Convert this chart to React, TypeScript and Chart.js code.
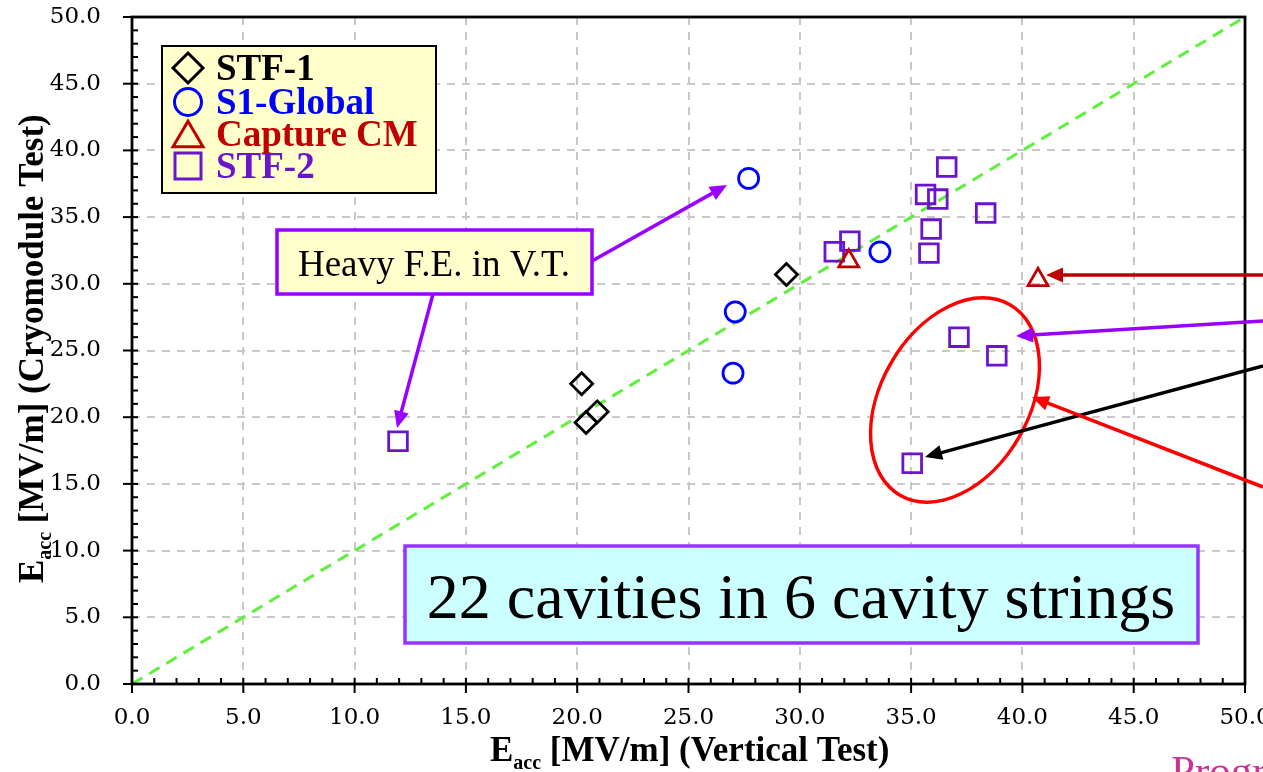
import { useEffect, useRef } from 'react';
import { Chart, registerables } from 'chart.js';

Chart.register(...registerables);

// ---- data ----
const stf1X = [20.2, 20.4, 20.9, 29.4];
const stf1Y = [22.5, 19.6, 20.4, 30.7];

const s1GlobalX = [27.7, 27.1, 27.0, 33.6];
const s1GlobalY = [37.9, 27.9, 23.3, 32.4];

const captureX = [32.2, 40.7];
const captureY = [31.7, 30.3];

const stf2X = [11.95, 31.55, 32.25, 35.65, 36.2, 36.6, 38.35, 35.9, 35.8, 37.15, 38.85, 35.05];
const stf2Y = [18.2, 32.4, 33.2, 36.7, 36.35, 38.75, 35.3, 34.1, 32.3, 26.0, 24.6, 16.55];

const diagX = [0, 50];
const diagY = [0, 50];

const axisTickLabels = ['0.0', '5.0', '10.0', '15.0', '20.0', '25.0', '30.0', '35.0', '40.0', '45.0', '50.0'];

const seriesNames = ['STF-1', 'S1-Global', 'Capture CM', 'STF-2'];
const seriesColors = ['#000000', '#0000ff', '#c00000', '#6a14cc'];

const toPts = (xs: number[], ys: number[]) => xs.map((x, i) => ({ x, y: ys[i] }));

const SERIF = '"Liberation Serif", "Times New Roman", serif';
const TICKFONT = '"DejaVu Serif", serif';

function drawArrow(
  ctx: CanvasRenderingContext2D,
  x1: number, y1: number, x2: number, y2: number,
  color: string, w: number, hl = 17, hw = 7.5
) {
  const ang = Math.atan2(y2 - y1, x2 - x1);
  const bx = x2 - hl * Math.cos(ang);
  const by = y2 - hl * Math.sin(ang);
  ctx.save();
  ctx.strokeStyle = color;
  ctx.lineWidth = w;
  ctx.beginPath();
  ctx.moveTo(x1, y1);
  ctx.lineTo(bx + 2 * Math.cos(ang), by + 2 * Math.sin(ang));
  ctx.stroke();
  ctx.fillStyle = color;
  ctx.beginPath();
  ctx.moveTo(x2, y2);
  ctx.lineTo(bx + hw * Math.sin(ang), by - hw * Math.cos(ang));
  ctx.lineTo(bx - hw * Math.sin(ang), by + hw * Math.cos(ang));
  ctx.closePath();
  ctx.fill();
  ctx.restore();
}

function drawMarker(ctx: CanvasRenderingContext2D, kind: string, x: number, y: number, s: number, color: string) {
  ctx.save();
  ctx.strokeStyle = color;
  ctx.lineWidth = 3;
  ctx.beginPath();
  if (kind === 'diamond') {
    ctx.moveTo(x, y - s); ctx.lineTo(x + s, y); ctx.lineTo(x, y + s); ctx.lineTo(x - s, y); ctx.closePath();
  } else if (kind === 'circle') {
    ctx.arc(x, y, s, 0, Math.PI * 2);
  } else if (kind === 'triangle') {
    const h = s * 1.7;
    ctx.moveTo(x, y - h / 2); ctx.lineTo(x + s, y + h / 2); ctx.lineTo(x - s, y + h / 2); ctx.closePath();
  } else {
    ctx.rect(x - s, y - s, 2 * s, 2 * s);
  }
  ctx.stroke();
  ctx.restore();
}

function drawEaccTitle(ctx: CanvasRenderingContext2D, x: number, y: number, rest: string, size: number) {
  ctx.font = `bold ${size}px ${SERIF}`;
  ctx.textAlign = 'left';
  ctx.textBaseline = 'alphabetic';
  ctx.fillText('E', x, y);
  let w = ctx.measureText('E').width;
  ctx.font = `bold ${Math.round(size * 0.58)}px ${SERIF}`;
  ctx.fillText('acc', x + w, y + size * 0.24);
  w += ctx.measureText('acc').width;
  ctx.font = `bold ${size}px ${SERIF}`;
  ctx.fillText(rest, x + w, y);
}

const decorPlugin = {
  id: 'decor',
  afterDraw(chart: any) {
    const ctx: CanvasRenderingContext2D = chart.ctx;
    const { left, right, top, bottom } = chart.chartArea;
    const xs = chart.scales.x;
    const ys = chart.scales.y;
    ctx.save();

    // frame
    ctx.strokeStyle = '#000';
    ctx.lineWidth = 2.8;
    ctx.strokeRect(left, top, right - left, bottom - top);

    // ticks
    ctx.lineWidth = 2;
    for (let v = 0; v <= 50; v += 1) {
      const major = v % 5 === 0;
      const px = xs.getPixelForValue(v);
      ctx.beginPath();
      ctx.moveTo(px, bottom - 6);
      ctx.lineTo(px, major ? bottom + 9 : bottom);
      ctx.stroke();
      const py = ys.getPixelForValue(v);
      ctx.beginPath();
      ctx.moveTo(left + 6, py);
      ctx.lineTo(major ? left - 9 : left, py);
      ctx.stroke();
    }

    // legend box
    ctx.fillStyle = '#ffffcc';
    ctx.fillRect(162, 46, 274, 147);
    ctx.strokeStyle = '#000';
    ctx.lineWidth = 2;
    ctx.strokeRect(162, 46, 274, 147);
    const kinds = ['diamond', 'circle', 'triangle', 'square'];
    const rowY = [68, 102, 134, 166];
    const sizes = [15, 13.5, 15, 13];
    for (let i = 0; i < 4; i++) {
      drawMarker(ctx, kinds[i], 188, rowY[i], sizes[i], seriesColors[i]);
      ctx.fillStyle = seriesColors[i];
      ctx.font = `bold 37px ${SERIF}`;
      ctx.textAlign = 'left';
      ctx.textBaseline = 'alphabetic';
      ctx.fillText(seriesNames[i], 216, rowY[i] + 12);
    }

    // Heavy F.E. annotation
    drawArrow(ctx, 592, 261, 727, 185, '#9900ff', 3.5);
    drawArrow(ctx, 433, 294, 397, 428, '#9900ff', 3.5);
    ctx.fillStyle = '#ffffcc';
    ctx.fillRect(277, 230, 315, 64);
    ctx.strokeStyle = '#9900ff';
    ctx.lineWidth = 3.5;
    ctx.strokeRect(277, 230, 315, 64);
    ctx.fillStyle = '#000';
    ctx.font = `37px ${SERIF}`;
    ctx.textAlign = 'center';
    ctx.textBaseline = 'alphabetic';
    ctx.fillText('Heavy F.E. in V.T.', 434, 276);

    // red ellipse
    ctx.strokeStyle = '#ff0000';
    ctx.lineWidth = 3.5;
    ctx.beginPath();
    ctx.ellipse(955, 400, 110, 74, -60 * Math.PI / 180, 0, Math.PI * 2);
    ctx.stroke();

    // right arrows
    drawArrow(ctx, 1263, 275, 1046, 275, '#c00000', 3.5);
    drawArrow(ctx, 1263, 321, 1016, 336, '#9900ff', 3.5);
    drawArrow(ctx, 1263, 366, 925, 457, '#000000', 3.5);
    drawArrow(ctx, 1263, 487, 1032, 397, '#ff0000', 3.5);

    // 22 cavities box
    ctx.fillStyle = '#ccffff';
    ctx.fillRect(405, 546, 793, 97);
    ctx.strokeStyle = '#9933ff';
    ctx.lineWidth = 3.5;
    ctx.strokeRect(405, 546, 793, 97);
    ctx.fillStyle = '#000';
    ctx.font = `64px ${SERIF}`;
    ctx.textAlign = 'center';
    ctx.fillText('22 cavities in 6 cavity strings', 801, 618);

    // axis titles
    ctx.fillStyle = '#000';
    drawEaccTitle(ctx, 490, 761, ' [MV/m] (Vertical Test)', 35);
    ctx.save();
    ctx.translate(43, 583);
    ctx.rotate(-Math.PI / 2);
    drawEaccTitle(ctx, 0, 0, ' [MV/m] (Cryomodule Test)', 35);
    ctx.restore();

    // cut-off text at bottom right
    ctx.fillStyle = '#cc3399';
    ctx.font = `43px ${SERIF}`;
    ctx.textAlign = 'left';
    ctx.fillText('Progress', 1171, 785);

    ctx.restore();
  },
};

export default function App() {
  const ref = useRef<HTMLCanvasElement>(null);
  useEffect(() => {
    document.body.style.margin = '0';
    const canvas = ref.current;
    if (!canvas) return;
    const fitX = (s: any) => { s.height = 88; s.paddingLeft = 0; s.paddingRight = 0; };
    const fitY = (s: any) => { s.width = 132; s.paddingTop = 0; s.paddingBottom = 0; };
    const markerDs = (label: string, data: any[], style: string, radius: number, color: string) => ({
      type: 'scatter' as const,
      label,
      data,
      pointStyle: style,
      pointRadius: radius,
      pointHoverRadius: radius,
      pointBorderWidth: 2.8,
      borderColor: color,
      backgroundColor: 'rgba(0,0,0,0)',
      pointBackgroundColor: 'rgba(0,0,0,0)',
      pointBorderColor: color,
      showLine: false,
    });
    const chart = new Chart(canvas, {
      type: 'scatter',
      data: {
        datasets: [
          markerDs(seriesNames[0], toPts(stf1X, stf1Y), 'rectRot', 11, seriesColors[0]),
          markerDs(seriesNames[1], toPts(s1GlobalX, s1GlobalY), 'circle', 10, seriesColors[1]),
          markerDs(seriesNames[2], toPts(captureX, captureY), 'triangle', 11.5, seriesColors[2]),
          markerDs(seriesNames[3], toPts(stf2X, stf2Y), 'rect', 13.2, seriesColors[3]),
          {
            type: 'line' as const,
            label: 'diag',
            data: toPts(diagX, diagY),
            borderColor: '#5ef03c',
            borderWidth: 3,
            borderDash: [12, 8],
            pointRadius: 0,
            fill: false,
          } as any,
        ],
      },
      options: {
        responsive: false,
        animation: false,
        devicePixelRatio: 1,
        layout: { padding: { top: 17, right: 18, left: 0, bottom: 0 } },
        plugins: { legend: { display: false }, tooltip: { enabled: false } },
        events: [],
        scales: {
          x: {
            type: 'linear',
            min: 0,
            max: 50,
            afterFit: fitX,
            grid: { color: '#c8c8c8', lineWidth: 2, drawTicks: false },
            border: { display: false, dash: [8, 7] },
            ticks: {
              stepSize: 5,
              padding: 20,
              color: '#000',
              maxRotation: 0,
              font: { family: TICKFONT, size: 23 },
              callback: (v: any) => axisTickLabels[Math.round(Number(v) / 5)] ?? '',
            },
          },
          y: {
            type: 'linear',
            min: 0,
            max: 50,
            afterFit: fitY,
            grid: { color: '#c8c8c8', lineWidth: 2, drawTicks: false },
            border: { display: false, dash: [8, 7] },
            ticks: {
              stepSize: 5,
              padding: 31,
              color: '#000',
              font: { family: TICKFONT, size: 23 },
              callback: (v: any) => axisTickLabels[Math.round(Number(v) / 5)] ?? '',
            },
          },
        },
      },
      plugins: [decorPlugin],
    });
    return () => chart.destroy();
  }, []);
  return (
    <div style={{ position: 'fixed', left: 0, top: 0, width: 1263, height: 772, background: '#fff', overflow: 'hidden' }}>
      <canvas ref={ref} width={1263} height={772} style={{ display: 'block', width: 1263, height: 772 }} />
    </div>
  );
}
